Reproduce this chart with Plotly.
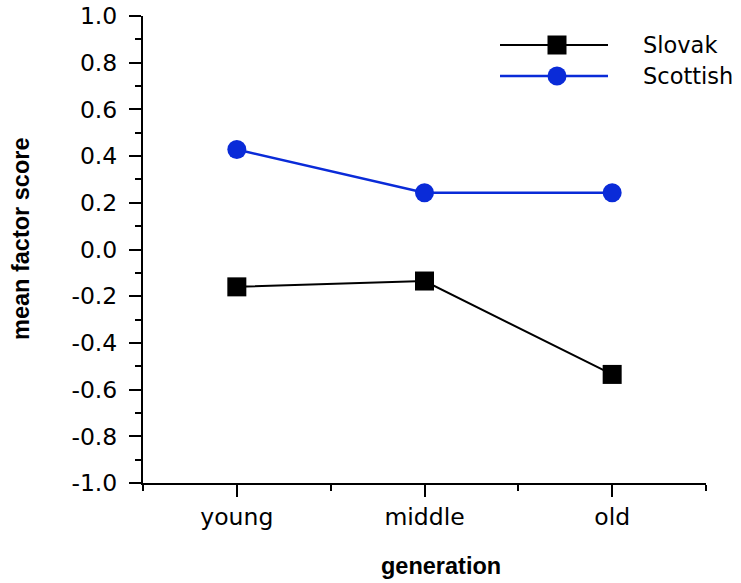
import plotly.graph_objects as go

# ---- data ----
categories = ["young", "middle", "old"]
slovak = [-0.16, -0.135, -0.535]
scottish = [0.428, 0.243, 0.243]
y_ticks = [-1.0, -0.8, -0.6, -0.4, -0.2, 0.0, 0.2, 0.4, 0.6, 0.8, 1.0]
y_minor = [-0.9, -0.7, -0.5, -0.3, -0.1, 0.1, 0.3, 0.5, 0.7, 0.9]
series_names = ["Slovak", "Scottish"]
x_title = "generation"
y_title = "mean factor score"

BLUE = "#0A2BD8"
TICKFONT = dict(family="DejaVu Sans", size=23.5, color="black")
LEGFONT = dict(family="DejaVu Sans", size=22.5, color="black")
TITLEFONT = dict(family="Liberation Sans", size=23.5, color="black")

xpos = list(range(len(categories)))

fig = go.Figure()
fig.add_trace(go.Scatter(
    x=xpos, y=slovak, mode="lines+markers", name=series_names[0],
    line=dict(color="black", width=2),
    marker=dict(symbol="square", size=19, color="black"),
    showlegend=False,
))
fig.add_trace(go.Scatter(
    x=xpos, y=scottish, mode="lines+markers", name=series_names[1],
    line=dict(color=BLUE, width=2.5),
    marker=dict(symbol="circle", size=19, color=BLUE),
    showlegend=False,
))

L, R, T, B = 143, 35, 16, 100
W, H = 741, 583
pw, ph = W - L - R, H - T - B


def px2paper(px, py):
    return (px - L) / pw, (H - B - py) / ph


# ---- manual legend (long line samples like the reference) ----
shapes = []
annotations = []
legend_rows = [(series_names[0], "black", 2, "rect", 45), (series_names[1], BLUE, 2.5, "circle", 76)]
for name, col, lw, sym, py in legend_rows:
    x0, y0 = px2paper(500, py)
    x1, _ = px2paper(608, py)
    xm, _ = px2paper(557, py)
    shapes.append(dict(type="line", xref="paper", yref="paper", x0=x0, x1=x1, y0=y0, y1=y0,
                       line=dict(color=col, width=lw)))
    shapes.append(dict(type=sym, xref="paper", yref="paper",
                       xsizemode="pixel", ysizemode="pixel",
                       xanchor=xm, yanchor=y0, x0=-9.5, x1=9.5, y0=-9.5, y1=9.5,
                       fillcolor=col, line=dict(width=0)))
    tx, _ = px2paper(641, py)
    annotations.append(dict(text=name, xref="paper", yref="paper", x=tx, y=y0,
                            xanchor="left", yanchor="middle", showarrow=False,
                            font=LEGFONT))

# axis titles as annotations (reference places them off-centre)
xt, yt = px2paper(441, 566)
annotations.append(dict(text=f"<b>{x_title}</b>", xref="paper", yref="paper", x=xt, y=yt,
                        xanchor="center", yanchor="middle", showarrow=False, font=TITLEFONT))
xt, yt = px2paper(21, 239)
annotations.append(dict(text=f"<b>{y_title}</b>", xref="paper", yref="paper", x=xt, y=yt,
                        xanchor="center", yanchor="middle", showarrow=False, textangle=-90,
                        font=TITLEFONT))

fig.update_layout(
    width=W, height=H, autosize=False,
    margin=dict(l=L, r=R, t=T, b=B, pad=0),
    plot_bgcolor="white", paper_bgcolor="white",
    shapes=shapes, annotations=annotations,
)

fig.update_xaxes(
    range=[-0.5, 2.5], tickmode="array", tickvals=xpos, ticktext=categories,
    showgrid=False, zeroline=False, showline=True, linecolor="black", linewidth=2,
    ticks="outside", ticklen=12, tickwidth=2, tickcolor="black",
    tickfont=TICKFONT, ticklabelstandoff=0, automargin=False,
    minor=dict(tickvals=[-0.5, 0.5, 1.5, 2.5], ticks="outside", ticklen=6,
               tickwidth=2, tickcolor="black", showgrid=False),
)
fig.update_yaxes(
    range=[-1.0, 1.0], tickmode="array", tickvals=y_ticks,
    ticktext=[f"{v:.1f}" for v in y_ticks],
    showgrid=False, zeroline=False, showline=True, linecolor="black", linewidth=2,
    ticks="outside", ticklen=12, tickwidth=2, tickcolor="black",
    tickfont=TICKFONT, ticklabelstandoff=7, automargin=False,
    minor=dict(tickvals=y_minor, ticks="outside", ticklen=6,
               tickwidth=2, tickcolor="black", showgrid=False),
)

fig.write_html("out.html")
